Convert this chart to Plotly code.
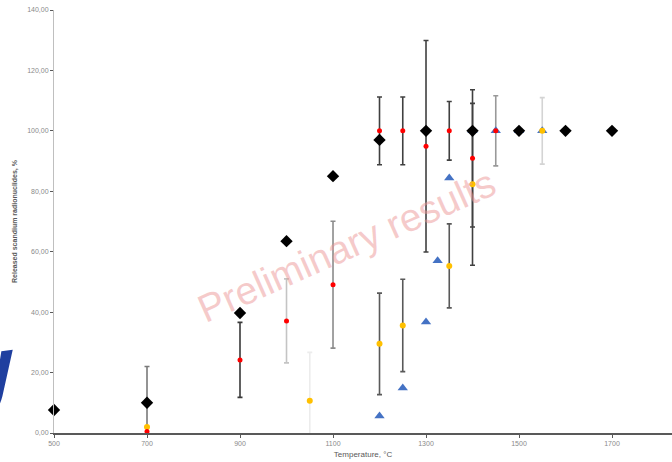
import plotly.graph_objects as go

# ---- data ----
black_t = [500, 700, 900, 1000, 1100, 1200, 1300, 1400, 1500, 1600, 1700]
black_v = [7.6, 10.0, 39.7, 63.5, 85.0, 97.0, 100, 100, 100, 100, 100]
black_err = [0, 12.0, 0, 0, 0, 0, 0, 0, 0, 0, 0]
black_errc = ["", "#7a7a7a", "", "", "", "", "", "", "", "", ""]

red_t = [700, 900, 1000, 1100, 1200, 1250, 1300, 1350, 1400, 1450]
red_v = [0.5, 24.2, 37.1, 49.1, 100, 100, 94.9, 100, 90.9, 100]
red_err = [0, 12.4, 13.9, 21.0, 11.2, 11.2, 35.0, 9.7, 22.7, 11.6]
red_errc = ["", "#3a3a3a", "#c4c4c4", "#8c8c8c", "#404040", "#404040",
            "#404040", "#404040", "#404040", "#999999"]

yellow_t = [700, 1050, 1200, 1250, 1350, 1400, 1550]
yellow_v = [2.0, 10.7, 29.5, 35.6, 55.3, 82.3, 100]
yellow_err = [0, 16.0, 16.8, 15.3, 13.9, 26.8, 11.0]
yellow_errc = ["", "#ececec", "#595959", "#595959", "#595959", "#404040", "#d4d4d4"]

blue_t = [1200, 1250, 1300, 1325, 1350, 1400, 1450, 1500, 1550]
blue_v = [5.6, 14.9, 36.7, 57.0, 84.4, 100, 100, 100, 100]

y_tickvals = [0, 20, 40, 60, 80, 100, 120, 140]
y_ticktext = ["0,00", "20,00", "40,00", "60,00", "80,00", "100,00", "120,00", "140,00"]
x_tickvals = [500, 700, 900, 1100, 1300, 1500, 1700, 1900]
x_ticktext = ["500", "700", "900", "1100", "1300", "1500", "1700", "1900"]

fig = go.Figure()

# error bars (drawn first, under the markers)
for ts, vs, es, cs in [(black_t, black_v, black_err, black_errc),
                       (red_t, red_v, red_err, red_errc),
                       (yellow_t, yellow_v, yellow_err, yellow_errc)]:
    for t, v, e, c in zip(ts, vs, es, cs):
        if e <= 0:
            continue
        fig.add_trace(go.Scatter(
            x=[t], y=[v], mode="markers",
            marker=dict(size=1, color="rgba(0,0,0,0)"),
            error_y=dict(type="data", array=[e], color=c, thickness=1.6, width=2.5),
            showlegend=False, hoverinfo="skip"))

# markers
fig.add_trace(go.Scatter(x=blue_t, y=blue_v, mode="markers", cliponaxis=False,
                         marker=dict(symbol="triangle-up", size=9, color="#4472c4"),
                         showlegend=False))
fig.add_trace(go.Scatter(x=black_t, y=black_v, mode="markers", cliponaxis=False,
                         marker=dict(symbol="diamond", size=9.5, color="#000000"),
                         showlegend=False))
fig.add_trace(go.Scatter(x=yellow_t, y=yellow_v, mode="markers", cliponaxis=False,
                         marker=dict(symbol="circle", size=6, color="#ffc000"),
                         showlegend=False))
fig.add_trace(go.Scatter(x=red_t, y=red_v, mode="markers", cliponaxis=False,
                         marker=dict(symbol="circle", size=5, color="#ff0000"),
                         showlegend=False))

fig.update_layout(
    width=672, height=462,
    margin=dict(l=54, r=0, t=10, b=29),
    plot_bgcolor="white", paper_bgcolor="white",
    font=dict(family="Liberation Sans", size=7, color="#808080"),
    xaxis=dict(range=[500, 1829], tickvals=x_tickvals, ticktext=x_ticktext,
               showgrid=False, zeroline=False, showline=True, linecolor="#595959",
               linewidth=1.5, ticks="outside", ticklen=3, tickcolor="#595959",
               ticklabeloverflow="allow",
               tickfont=dict(size=7, color="#8a8a8a"),
               title=dict(text="Temperature, °C", font=dict(size=8, color="#595959"),
                          standoff=5)),
    yaxis=dict(range=[0, 140], tickvals=y_tickvals, ticktext=y_ticktext,
               showgrid=False, zeroline=False, showline=True, linecolor="#bfbfbf",
               linewidth=1, ticks="outside", ticklen=3, tickcolor="#595959",
               ticklabeloverflow="allow",
               tickfont=dict(size=7, color="#8a8a8a"),
               title=dict(text="<b>Released scandium radionuclides, %</b>",
                          font=dict(size=7, color="#595959"), standoff=8)),
    annotations=[
        dict(text="Preliminary results", xref="paper", yref="paper",
             x=0.474, y=0.444, showarrow=False, textangle=-24,
             font=dict(family="Liberation Sans", size=39, color="rgba(236,150,150,0.5)")),
        dict(text="<b>y</b>", xref="paper", yref="paper",
             x=-0.0985, y=0.156, showarrow=False, xanchor="center", yanchor="middle",
             textangle=-8,
             font=dict(family="Liberation Sans", size=80, color="#1f3f9f")),
    ],
)

fig.write_html("out.html",
               config={"displayModeBar": False},
               post_script="document.body.style.margin='0';"
                           "document.body.style.overflow='hidden';")
